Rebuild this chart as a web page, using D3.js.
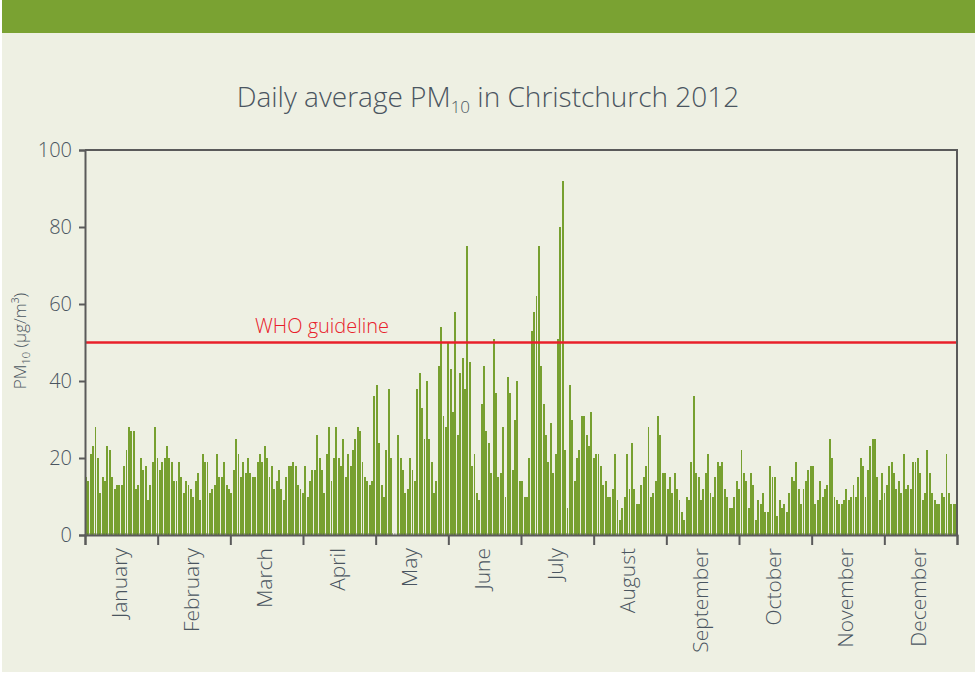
<!DOCTYPE html>
<html>
<head>
<meta charset="utf-8">
<script src="https://cdn.jsdelivr.net/npm/d3@7"></script>
<style>
  body { margin: 0; background: #ffffff; }
  svg { display: block; }
  text { font-family: "Open Sans", "Noto Sans", sans-serif; fill: #4a5560; }
</style>
</head>
<body>
<svg id="chart" width="975" height="675"></svg>
<script>
// month categories on the x axis
var months = ['January', 'February', 'March', 'April', 'May', 'June',
              'July', 'August', 'September', 'October', 'November', 'December'];
var yTicks = [0, 20, 40, 60, 80, 100];
var whoGuideline = 50;

// daily average PM10, 1 Jan - 31 Dec 2012
var pm10 = [
  15,14,21,23,28,20,11,15,14,23,22,15,12,13,13,13,18,22,28,27,27,12,13,20,17,18,9,13,19,28,20,17,19,20,23,20,19,14,14,19,15,11,14,13,12,10,14,16,
  9,21,19,19,11,12,13,21,15,15,19,13,12,11,17,25,21,15,19,16,20,16,15,15,19,21,19,23,20,15,18,12,14,17,12,9,15,18,18,19,18,13,12,11,18,
  10,14,17,17,26,20,17,11,21,28,14,20,28,20,18,25,15,21,18,22,25,28,27,19,15,14,13,14,36,39,24,13,10,22,38,20,0,0,26,20,17,11,12,20,17,14,38,42,33,25,40,
  25,19,11,14,44,54,31,28,50,43,32,58,26,42,46,38,75,45,18,21,11,9,34,44,27,24,16,51,37,15,16,28,10,41,37,17,30,40,14,14,10,10,20,53,58,62,75,44,
  34,26,19,29,16,21,51,80,92,22,7,39,30,14,20,22,31,31,26,23,32,20,21,21,18,13,14,10,10,12,21,9,4,7,10,21,12,24,12,8,8,13,15,18,28,10,11,14,
  31,26,16,16,12,15,11,16,12,9,6,4,10,9,19,36,16,15,9,12,16,21,11,10,15,19,18,19,12,10,7,7,10,14,12,22,16,14,7,16,13,4,9,8,11,6,6,18,15,
  15,5,9,7,8,6,11,15,14,19,12,8,12,14,17,18,18,8,9,14,10,12,13,25,20,10,9,8,8,9,12,9,10,13,10,15,20,18,10,17,23,25,25,15,9,16,11,13,
  18,19,16,12,14,11,21,12,13,12,19,19,20,16,9,11,22,16,11,9,8,8,11,10,21,11,8,8,8
];

var svg = d3.select('#chart');
var margin = {top: 150, right: 18, bottom: 140, left: 85};
var width = 975 - margin.left - margin.right;
var height = 675 - margin.top - margin.bottom;

// background panel and green band
svg.append('rect')
    .attr('x', 2).attr('y', 0)
    .attr('width', 973).attr('height', 672)
    .attr('fill', '#eef0e3');
svg.append('rect')
    .attr('x', 2).attr('y', 0)
    .attr('width', 973).attr('height', 33)
    .attr('fill', '#7aa232');

// title
var title = svg.append('text')
    .attr('x', 488)
    .attr('y', 107)
    .attr('text-anchor', 'middle')
    .style('font-size', '28px')
    .style('font-weight', 300);
title.append('tspan').text('Daily average PM');
title.append('tspan').attr('dy', 6).style('font-size', '17px').text('10');
title.append('tspan').attr('dy', -6).text(' in Christchurch 2012');

var g = svg.append('g')
    .attr('transform', 'translate(' + margin.left + ',' + margin.top + ')');

var x = d3.scaleBand()
    .domain(d3.range(pm10.length))
    .range([0, width])
    .paddingInner(0.2);
var xMonth = d3.scaleBand().domain(months).range([0, width]);
var xEdge = d3.scaleLinear().domain([0, months.length]).range([0, width]);
var y = d3.scaleLinear().domain([0, 100]).range([height, 0]);

// bars
g.append('g')
  .selectAll('rect')
  .data(pm10)
  .enter().append('rect')
    .attr('x', function(d, i) { return x(i); })
    .attr('y', function(d) { return y(d); })
    .attr('width', x.bandwidth())
    .attr('height', function(d) { return height - y(d); })
    .attr('fill', '#77a030')
    .attr('shape-rendering', 'crispEdges');

// small day ticks along the bottom
g.append('g')
  .selectAll('line')
  .data(d3.range(pm10.length))
  .enter().append('line')
    .attr('x1', function(d) { return x(d) + x.step(); })
    .attr('x2', function(d) { return x(d) + x.step(); })
    .attr('y1', height)
    .attr('y2', height - 2)
    .attr('stroke', '#555')
    .attr('stroke-width', 0.6);

// WHO guideline
g.append('line')
    .attr('x1', 0).attr('x2', width)
    .attr('y1', y(whoGuideline)).attr('y2', y(whoGuideline))
    .attr('stroke', '#e8202a')
    .attr('stroke-width', 2.5);
g.append('text')
    .attr('x', 237)
    .attr('y', y(whoGuideline) - 10)
    .attr('text-anchor', 'middle')
    .style('font-size', '20px')
    .style('font-weight', 300)
    .style('fill', '#e8202a')
    .text('WHO guideline');

// frame top/right
g.append('path')
    .attr('d', 'M0,0H' + width + 'V' + height)
    .attr('fill', 'none')
    .attr('stroke', '#5a5a5a')
    .attr('stroke-width', 2);

// y axis
var yAxis = g.append('g')
    .call(d3.axisLeft(y).tickValues(yTicks).tickSize(6).tickPadding(7));
yAxis.select('.domain').attr('stroke', '#5a5a5a').attr('stroke-width', 2);
yAxis.selectAll('.tick line').attr('stroke', '#5a5a5a').attr('stroke-width', 2);
yAxis.selectAll('text')
    .style('font-size', '20px')
    .style('font-weight', 300)
    .style('fill', '#4a5560');

// y label
var yLabel = svg.append('text')
    .attr('transform', 'translate(26,341) rotate(-90)')
    .attr('text-anchor', 'middle')
    .style('font-size', '17px')
    .style('font-weight', 300);
yLabel.append('tspan').text('PM');
yLabel.append('tspan').attr('dy', 4).style('font-size', '11px').text('10');
yLabel.append('tspan').attr('dy', -4).text(' (µg/m³)');

// x axis: month boundaries
var xEdges = g.append('g')
    .attr('transform', 'translate(0,' + height + ')')
    .call(d3.axisBottom(xEdge).tickValues(d3.range(months.length + 1)).tickSize(10).tickFormat(''));
xEdges.select('.domain').attr('stroke', '#5a5a5a').attr('stroke-width', 2);
xEdges.selectAll('.tick line').attr('stroke', '#5a5a5a').attr('stroke-width', 2);

// x axis: month labels
var xLabels = g.append('g')
    .attr('transform', 'translate(0,' + height + ')')
    .call(d3.axisBottom(xMonth).tickSize(0));
xLabels.select('.domain').remove();
xLabels.selectAll('text')
    .attr('transform', 'rotate(-90)')
    .attr('x', -13)
    .attr('y', -2)
    .attr('dy', '0.35em')
    .style('text-anchor', 'end')
    .style('font-size', '21px')
    .style('font-weight', 300)
    .style('fill', '#4a5560');
</script>
</body>
</html>
